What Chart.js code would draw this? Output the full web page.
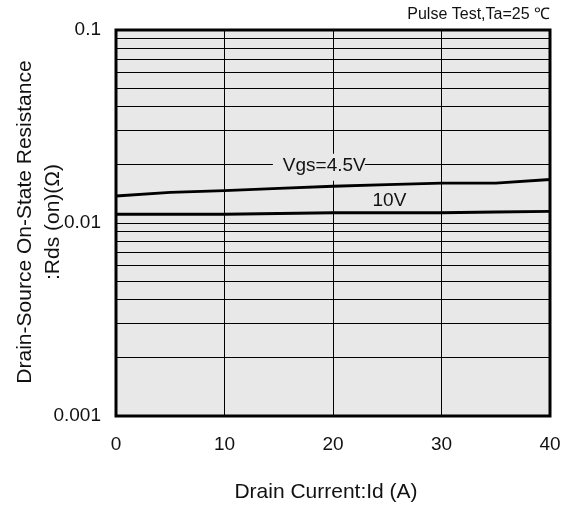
<!DOCTYPE html>
<html>
<head>
<meta charset="utf-8">
<script src="https://cdn.jsdelivr.net/npm/chart.js@4.4.6/dist/chart.umd.min.js"></script>
<style>
  html, body { margin: 0; padding: 0; background: #fff; }
  canvas { display: block; }
</style>
</head>
<body>
<canvas id="c" width="569" height="506"></canvas>
<script>
// Rds(on) vs Id
const currentA = [0, 5, 10, 15, 20, 25, 30, 35, 40]
const rdsVgs45 = [0.0138, 0.0144, 0.0147, 0.0151, 0.0155, 0.0158, 0.0161, 0.0161, 0.0168]
const rdsVgs10 = [0.0111, 0.0111, 0.0111, 0.0112, 0.0113, 0.0113, 0.0113, 0.0114, 0.0115]

const xTicks = [0, 10, 20, 30, 40]
const yGrid = [
  0.001, 0.002, 0.003, 0.004, 0.005, 0.006, 0.007, 0.008, 0.009,
  0.01, 0.02, 0.03, 0.04, 0.05, 0.06, 0.07, 0.08, 0.09, 0.1
]
const yLabels = [0.001, 0.01, 0.1]

// annotations des courbes (coordonnées en données)
const curveNotes = [
  { text: 'Vgs=4.5V', x: 19.2, y: 0.0198, bg: true },
  { text: '10V', x: 25.2, y: 0.0130, bg: false }
]

const FONT = '"Liberation Sans", Arial, sans-serif'
const BG = '#e8e8e8'

const framePlugin = {
  id: 'frame',
  beforeDraw (chart) {
    const { ctx, chartArea: a } = chart
    ctx.save()
    ctx.fillStyle = BG
    ctx.fillRect(a.left, a.top, a.right - a.left, a.bottom - a.top)
    ctx.restore()
  },
  afterDatasetsDraw (chart) {
    const { ctx, scales } = chart
    ctx.save()
    ctx.font = '19px ' + FONT
    ctx.textAlign = 'center'
    ctx.textBaseline = 'middle'
    curveNotes.forEach(n => {
      const px = scales.x.getPixelForValue(n.x)
      const py = scales.y.getPixelForValue(n.y)
      if (n.bg) {
        const w = ctx.measureText(n.text).width
        ctx.fillStyle = BG
        ctx.fillRect(px - w / 2 - 10, py - 12, w + 9, 27)
      }
      ctx.fillStyle = '#111'
      ctx.fillText(n.text, px, py)
    })
    ctx.restore()
  },
  afterDraw (chart) {
    const { ctx, chartArea: a } = chart
    ctx.save()
    ctx.strokeStyle = '#000'
    ctx.lineWidth = 3
    ctx.strokeRect(a.left, a.top, a.right - a.left, a.bottom - a.top)

    ctx.fillStyle = '#111'
    ctx.font = '16px ' + FONT
    ctx.textAlign = 'right'
    ctx.textBaseline = 'middle'
    ctx.fillText('Pulse Test,Ta=25 \u2103', a.right, 15)

    ctx.font = '21px ' + FONT
    ctx.textAlign = 'center'
    ctx.fillText('Drain Current:Id (A)', (a.left + a.right) / 2 - 7, 492)

    ctx.translate(0, 222)
    ctx.rotate(-Math.PI / 2)
    ctx.fillText('Drain-Source On-State Resistance', 0, 25)
    ctx.fillText(':Rds (on)(\u03a9)', 0, 53)
    ctx.restore()
  }
}

new Chart(document.getElementById('c'), {
  type: 'line',
  data: {
    labels: currentA,
    datasets: [
      { label: 'Vgs=4.5V', data: currentA.map((x, i) => ({ x, y: rdsVgs45[i] })) },
      { label: '10V', data: currentA.map((x, i) => ({ x, y: rdsVgs10[i] })) }
    ]
  },
  options: {
    responsive: false,
    animation: false,
    layout: { padding: { left: 0, top: 30, right: 19, bottom: 0 } },
    elements: {
      line: { borderColor: '#000', borderWidth: 2.8, tension: 0 },
      point: { radius: 0 }
    },
    plugins: { legend: { display: false }, tooltip: { enabled: false } },
    scales: {
      x: {
        type: 'linear',
        min: 0,
        max: 40,
        afterFit: s => { s.height = 90; s.paddingLeft = 0; s.paddingRight = 0 },
        afterBuildTicks: s => { s.ticks = xTicks.map(v => ({ value: v })) },
        grid: { color: '#000', lineWidth: 1, drawTicks: false },
        border: { display: false },
        ticks: { padding: 17, color: '#111', font: { family: FONT, size: 19 }, maxRotation: 0 }
      },
      y: {
        type: 'logarithmic',
        min: 0.001,
        max: 0.1,
        afterFit: s => { s.width = 116; s.paddingTop = 0; s.paddingBottom = 0 },
        afterBuildTicks: s => { s.ticks = yGrid.map(v => ({ value: v })) },
        grid: { color: '#000', lineWidth: 1, drawTicks: false },
        border: { display: false },
        ticks: {
          autoSkip: false,
          padding: 15,
          color: '#111',
          font: { family: FONT, size: 19 },
          callback: v => yLabels.some(l => Math.abs(l - v) < 1e-9) ? String(v) : ''
        }
      }
    }
  },
  plugins: [framePlugin]
})
</script>
</body>
</html>
